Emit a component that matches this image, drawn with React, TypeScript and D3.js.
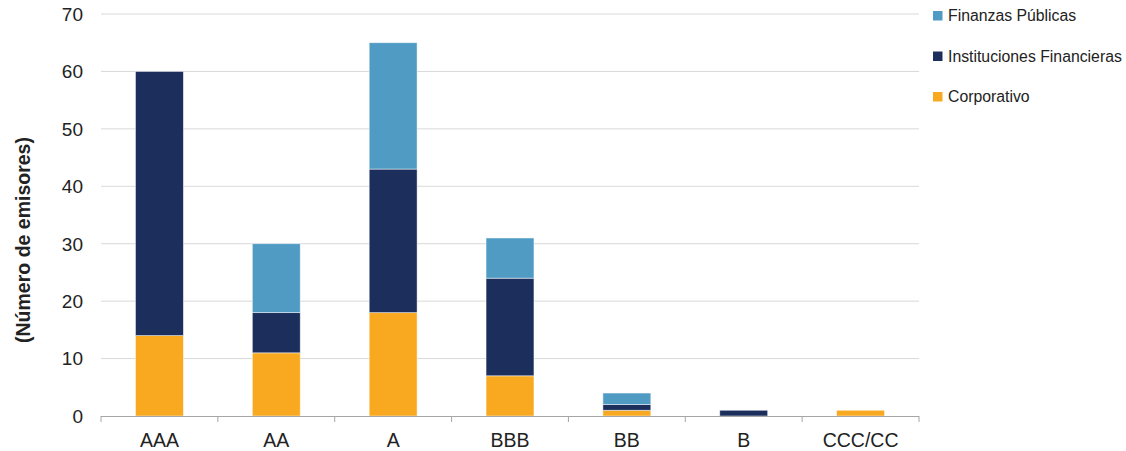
import React from "react";
import * as d3 from "d3";

const categories = ["AAA", "AA", "A", "BBB", "BB", "B", "CCC/CC"];
const corporativo = [14, 11, 18, 7, 1, 0, 1];
const instituciones = [46, 7, 25, 17, 1, 1, 0];
const finanzas = [0, 12, 22, 7, 2, 0, 0];
const yTicks = [0, 10, 20, 30, 40, 50, 60, 70];
const seriesNames = ["Corporativo", "Instituciones Financieras", "Finanzas Públicas"];
const colors = ["#F9A920", "#1C2F5C", "#4F9BC4"];

export default function App() {
  const W = 1126, H = 451;
  const left = 101, right = 919, top = 14, bottom = 416;
  const x = d3.scaleBand().domain(categories).range([left, right]).paddingInner(0.59).paddingOuter(0.295);
  const xb = d3.scaleBand().domain(categories).range([left, right]);
  const y = d3.scaleLinear().domain([0, 70]).range([bottom, top]);
  const rows = categories.map((c, i) => ({ cat: c, c0: corporativo[i], c1: instituciones[i], c2: finanzas[i] }));
  const stack = d3.stack<any>().keys(["c0", "c1", "c2"])(rows);
  const font = "'Liberation Sans', Arial, sans-serif";
  const legendOrder = [2, 1, 0];
  return (
    <svg width={W} height={H} style={{ position: "absolute", left: 0, top: 0 }}>
      {yTicks.map((t) => (
        <g key={t}>
          {t > 0 && <line x1={left} x2={right} y1={y(t)} y2={y(t)} stroke="#D9D9D9" strokeWidth={1} />}
          <text x={83} y={y(t)} dy="0.36em" textAnchor="end" fontFamily={font} fontSize={19} fill="#222">{t}</text>
        </g>
      ))}
      {stack.map((s, si) => (
        <g key={si}>
          {s.map((d, i) => (d[1] - d[0] > 0 ? (
            <rect key={i} x={x(categories[i])!} width={x.bandwidth()} y={y(d[1])} height={y(d[0]) - y(d[1])}
              fill={colors[si]} stroke="#FFFFFF" strokeOpacity={0.6} strokeWidth={0.8} />
          ) : null))}
        </g>
      ))}
      <line x1={left} x2={right} y1={bottom + 0.5} y2={bottom + 0.5} stroke="#A6A6A6" strokeWidth={1} />
      {[...categories.map((c) => xb(c)!), right].map((v, i) => (
        <line key={i} x1={v} x2={v} y1={bottom} y2={bottom + 6} stroke="#A6A6A6" strokeWidth={1} />
      ))}
      {categories.map((c) => (
        <text key={c} x={xb(c)! + xb.bandwidth() / 2} y={447} textAnchor="middle" fontFamily={font} fontSize={19.5} fill="#222">{c}</text>
      ))}
      <text transform={`translate(30,${240}) rotate(-90)`} textAnchor="middle" fontFamily={font} fontSize={19.5} fontWeight="bold" fill="#222">(Número de emisores)</text>
      {legendOrder.map((si, k) => (
        <g key={si} transform={`translate(933,${15.5 + k * 40.5})`}>
          <rect x={0} y={-4.5} width={9.5} height={9.5} fill={colors[si]} />
          <text x={15} y={0} dy="0.36em" fontFamily={font} fontSize={15.8} fill="#222">{seriesNames[si]}</text>
        </g>
      ))}
    </svg>
  );
}
